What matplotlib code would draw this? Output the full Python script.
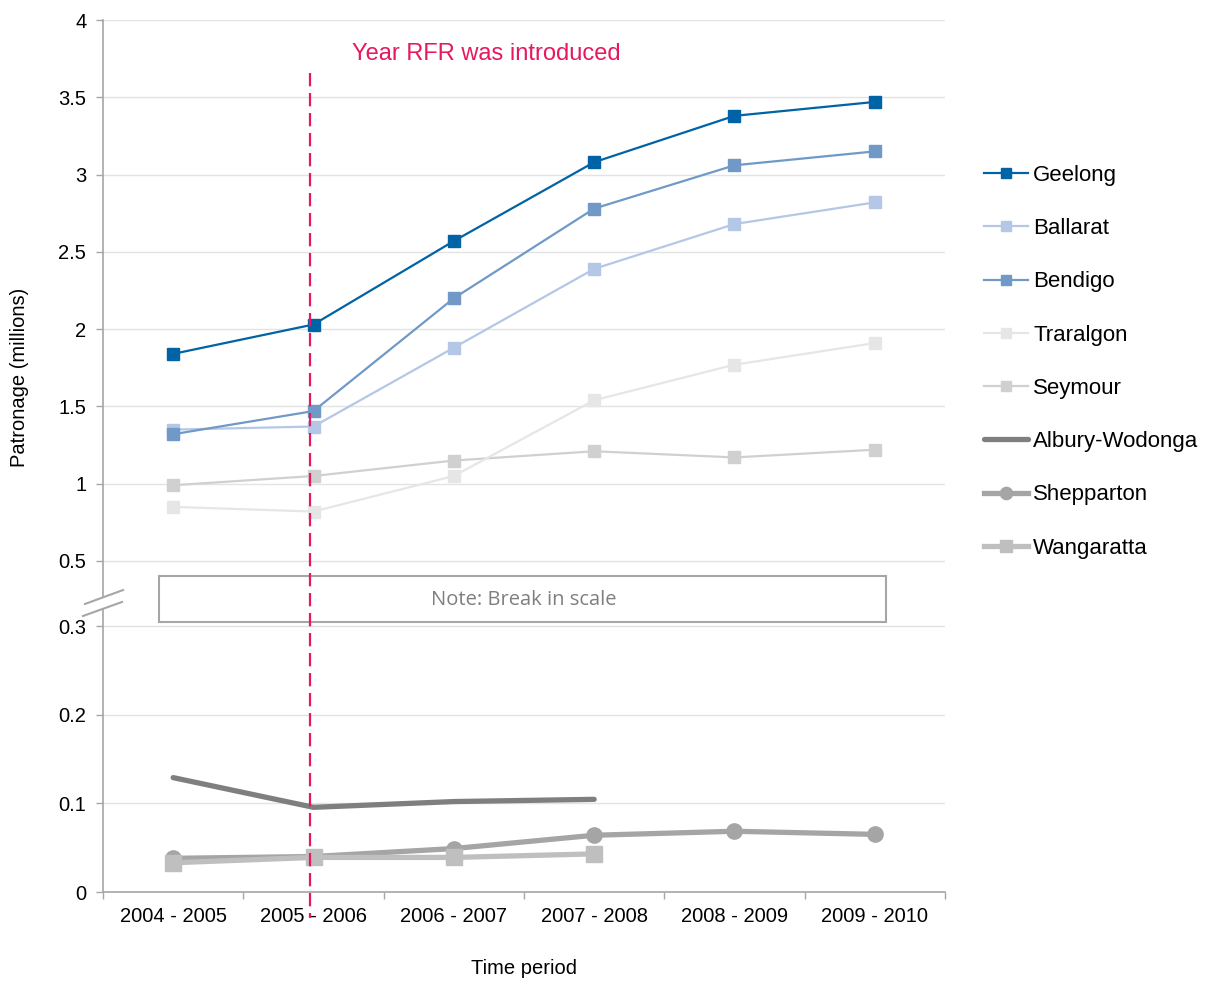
import numpy as np
import matplotlib
matplotlib.use("Agg")
import matplotlib.pyplot as plt
from matplotlib.patches import Rectangle, Polygon
from matplotlib.lines import Line2D

plt.rcParams['font.family'] = ['Liberation Sans', 'DejaVu Sans']

# data (millions of trips)
periods = ['2004 - 2005', '2005 - 2006', '2006 - 2007', '2007 - 2008', '2008 - 2009', '2009 - 2010']
geelong = [1.84, 2.03, 2.57, 3.08, 3.38, 3.47]
ballarat = [1.35, 1.37, 1.88, 2.39, 2.68, 2.82]
bendigo = [1.32, 1.47, 2.20, 2.78, 3.06, 3.15]
traralgon = [0.85, 0.82, 1.05, 1.54, 1.77, 1.91]
seymour = [0.99, 1.05, 1.15, 1.21, 1.17, 1.22]
albury = [0.129, 0.0955, 0.102, 0.1045]
shepparton = [0.038, 0.040, 0.049, 0.064, 0.0685, 0.065]
wangaratta = [0.033, 0.039, 0.039, 0.043]
yticks = [0, 0.1, 0.2, 0.3, 0.5, 1, 1.5, 2, 2.5, 3, 3.5, 4]
rfr_year = 0.975

# broken scale: 0-0.3 stretched, 0.5-4 compressed
xp = np.array([-10, 0, 0.3, 0.5, 4, 20])
fp = np.array([-8867, 0, 266, 331, 872, 872 + 16 * 154.57])

def fwd(v):
    return np.interp(v, xp, fp)

def inv(v):
    return np.interp(v, fp, xp)

fig = plt.figure(figsize=(12.07, 9.81), dpi=100)
ax = fig.add_axes([103 / 1207, 89 / 981, 842 / 1207, 872 / 981])
ax.set_yscale('function', functions=(fwd, inv))

x = np.arange(len(periods))

# upper group
top_series = [
    ('Seymour', seymour, '#d0d0d0'),
    ('Traralgon', traralgon, '#e6e6e6'),
    ('Ballarat', ballarat, '#b4c7e7'),
    ('Bendigo', bendigo, '#7099c8'),
    ('Geelong', geelong, '#0063a6'),
]
handles = {}
for name, vals, col in top_series:
    h, = ax.plot(x[:len(vals)], vals, color=col, lw=1.6, marker='s', ms=8.8,
                 mec=col, mfc=col, zorder=3)
    handles[name] = h

h, = ax.plot(x[:len(albury)], albury, color='#7f7f7f', lw=3.8,
             solid_capstyle='round', zorder=3)
handles['Albury-Wodonga'] = h
h, = ax.plot(x[:len(shepparton)], shepparton, color='#a5a5a5', lw=3.8,
             marker='o', ms=11, zorder=3)
handles['Shepparton'] = h
h, = ax.plot(x[:len(wangaratta)], wangaratta, color='#bfbfbf', lw=3.8,
             marker='s', ms=11, zorder=3)
handles['Wangaratta'] = h

ax.set_xlim(-0.5, len(periods) - 0.5)
ax.set_ylim(0, 4)
ax.set_yticks(yticks)
ax.set_yticklabels([f'{t:g}' for t in yticks])
ax.set_xticks(x)
ax.set_xticklabels(periods)
ax.set_xticks(np.arange(-0.5, len(periods)), minor=True)
ax.tick_params(axis='x', which='major', length=0, pad=11, labelsize=14.5)
ax.tick_params(axis='x', which='minor', length=5, width=1, color='#a6a6a6')
ax.tick_params(axis='y', length=5, width=1, color='#a6a6a6', pad=7, labelsize=14.5)
ax.yaxis.grid(True, color='#e3e3e3', lw=1)
ax.set_axisbelow(True)
for s in ['top', 'right']:
    ax.spines[s].set_visible(False)
for s in ['left', 'bottom']:
    ax.spines[s].set_color('#a6a6a6')
    ax.spines[s].set_linewidth(1.2)

# RFR introduction marker
ax.plot([rfr_year, rfr_year], [0.939, -0.03], color='#e6185f', lw=1.6,
        dashes=(6, 3), transform=ax.get_xaxis_transform(), clip_on=False, zorder=6)
ax.text(1.274, 0.961, 'Year RFR was introduced', color='#e6185f', fontsize=17,
        va='center', ha='left', transform=ax.get_xaxis_transform())

# break note box
ax.add_patch(Rectangle((0.0665, 0.3096), 0.8635, 0.0528, transform=ax.transAxes,
                       facecolor='white', edgecolor='#a6a6a6', lw=1.5, zorder=4))
ax.text(0.5, 0.3345, 'Note: Break in scale', transform=ax.transAxes,
        family=['Open Sans', 'DejaVu Sans'], fontsize=14.5, color='#7f7f7f',
        ha='center', va='center', zorder=5)

# break marks on y axis
p1 = [(-0.0214, 0.3303), (0.0238, 0.3463)]
p2 = [(-0.0238, 0.3165), (0.0226, 0.3326)]
ax.add_patch(Polygon(p1 + p2[::-1], closed=True, transform=ax.transAxes,
                     facecolor='white', edgecolor='none', clip_on=False, zorder=5))
for p in (p1, p2):
    ax.add_line(Line2D([p[0][0], p[1][0]], [p[0][1], p[1][1]], color='#a6a6a6',
                       lw=1.5, transform=ax.transAxes, clip_on=False, zorder=6))

fig.text(20 / 1207, 1 - 377 / 981, 'Patronage (millions)', rotation=90,
         ha='center', va='center', fontsize=14.5)
fig.text(524 / 1207, 1 - 969 / 981, 'Time period', ha='center', va='center', fontsize=14.5)

order = ['Geelong', 'Ballarat', 'Bendigo', 'Traralgon', 'Seymour',
         'Albury-Wodonga', 'Shepparton', 'Wangaratta']
leg = fig.legend([handles[n] for n in order], order, loc='upper left',
                 bbox_to_anchor=(964 / 1207, 1 - 145 / 981), frameon=False,
                 fontsize=16, handlelength=2.0, handletextpad=0.22,
                 labelspacing=1.45, markerscale=0.8)

fig.savefig('out.png', dpi=100)
